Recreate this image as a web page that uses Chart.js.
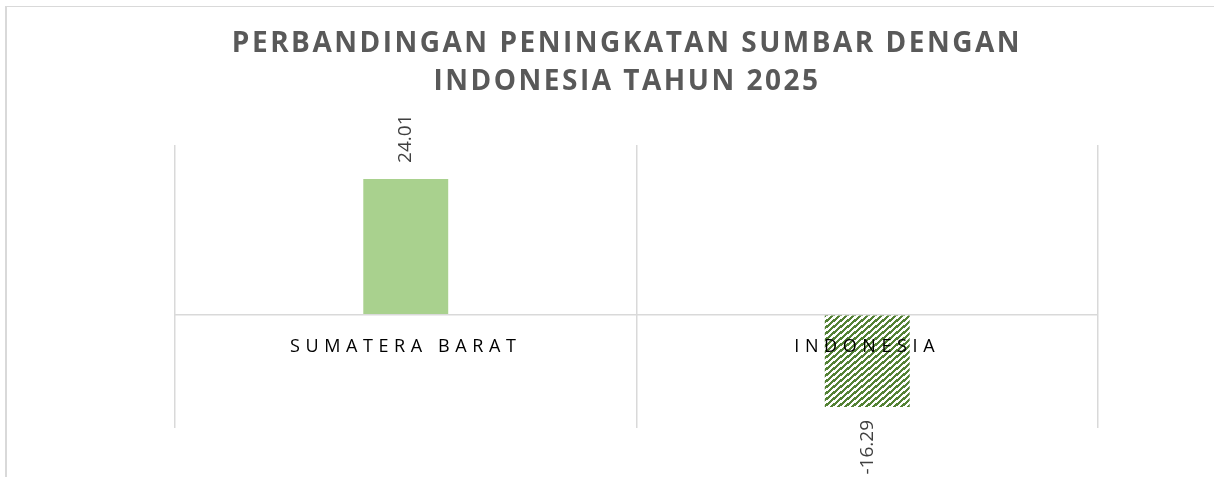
<!DOCTYPE html>
<html lang="id">

<head>
  <meta charset="UTF-8">
  <title>Perbandingan Peningkatan Sumbar dengan Indonesia</title>
  <script src="https://cdn.jsdelivr.net/npm/chart.js"></script>
  <style>
    html, body { margin: 0; padding: 0; background: #fff; overflow: hidden; }
    #frame {
      position: absolute;
      left: 5px;
      top: 6px;
      border-left: 2px solid #d9d9d9;
      border-top: 1px solid #d9d9d9;
    }
    canvas { display: block; }
  </style>
</head>

<body>
  <div id="frame">
    <canvas id="growthChart" width="1240" height="470"></canvas>
  </div>

  <script>
    // chart data
    const categories = ['SUMATERA BARAT', 'INDONESIA'];
    const growth = [24.01, -16.29];
    const titleLines = ['PERBANDINGAN PENINGKATAN SUMBAR DENGAN', 'INDONESIA TAHUN 2025'];
    const yRange = [-20, 30];

    // Excel-like "wide upward diagonal" fill for the second bar
    function diagonalPattern(color) {
      const w = 7, h = 6;
      const tile = document.createElement('canvas');
      tile.width = w;
      tile.height = h;
      const t = tile.getContext('2d');
      t.fillStyle = '#ffffff';
      t.fillRect(0, 0, w, h);
      t.fillStyle = color;
      for (let y = 0; y < h; y++) {
        for (let x = 0; x < w; x++) {
          if ((h * x + w * y) % (w * h) < (w * h) / 2) t.fillRect(x, y, 1, 1);
        }
      }
      return t.createPattern(tile, 'repeat');
    }

    const ctx = document.getElementById('growthChart').getContext('2d');

    // title and category labels are letter-spaced, value labels are not
    const spacingPlugin = {
      id: 'spacing',
      beforeDraw(chart) {
        chart.ctx.letterSpacing = '2.5px';
      },
      afterDatasetsDraw(chart) {
        const c = chart.ctx;
        const meta = chart.getDatasetMeta(0);
        c.save();
        c.letterSpacing = '0px';
        c.font = '19px "Open Sans"';
        c.fillStyle = '#404040';
        c.textBaseline = 'middle';
        meta.data.forEach((bar, i) => {
          const v = growth[i];
          c.save();
          if (v >= 0) {
            c.translate(bar.x, bar.y - 16);
            c.textAlign = 'left';
          } else {
            c.translate(bar.x, bar.y + 13);
            c.textAlign = 'right';
          }
          c.rotate(-Math.PI / 2);
          c.fillText(v.toFixed(2), 0, 0);
          c.restore();
        });
        c.restore();
        // category labels are drawn after the bars (ticks z = 1)
        c.letterSpacing = '5.6px';
      },
      afterDraw(chart) {
        chart.ctx.letterSpacing = '0px';
      }
    };

    new Chart(ctx, {
      type: 'bar',
      data: {
        labels: categories,
        datasets: [{
          data: growth,
          backgroundColor: ['#a9d18e', diagonalPattern('#548235')],
          borderWidth: 0,
          barPercentage: 0.184,
          categoryPercentage: 1
        }]
      },
      options: {
        responsive: false,
        animation: false,
        layout: {
          padding: { top: 0, left: 149, right: 149, bottom: 49 }
        },
        plugins: {
          legend: { display: false },
          tooltip: { enabled: false },
          title: {
            display: true,
            text: titleLines,
            color: '#595959',
            font: { family: '"Open Sans"', size: 28, weight: 'bold', lineHeight: '38px' },
            padding: { top: 18, bottom: 44 }
          }
        },
        scales: {
          x: {
            position: { y: 0 },
            offset: true,
            border: { display: false },
            grid: {
              color: '#d9d9d9',
              lineWidth: 1.5,
              drawTicks: false
            },
            ticks: {
              z: 1,
              color: '#000000',
              font: { family: '"Open Sans"', size: 18 },
              padding: 21,
              maxRotation: 0,
              autoSkip: false
            }
          },
          y: {
            min: yRange[0],
            max: yRange[1],
            border: { display: false },
            afterFit(scale) {
              scale.width = 19;
            },
            grid: {
              drawTicks: false,
              lineWidth: 1.5,
              color: (c) => (c.tick && c.tick.value === 0 ? '#d9d9d9' : 'rgba(0,0,0,0)')
            },
            ticks: { display: false, stepSize: 10 }
          }
        }
      },
      plugins: [spacingPlugin]
    });
  </script>
</body>

</html>
